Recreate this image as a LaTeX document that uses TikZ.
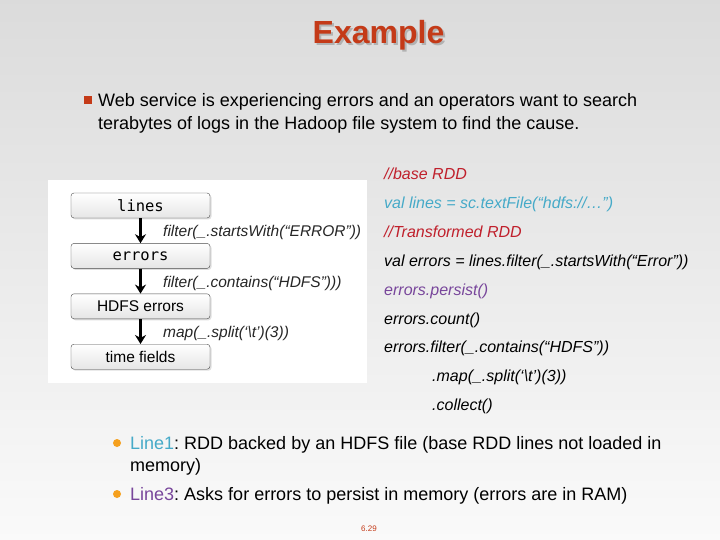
\documentclass[tikz,border=0pt]{standalone}
\usepackage{fontspec}
\setmainfont{Liberation Sans}
\setmonofont{DejaVu Sans Mono}
\usetikzlibrary{positioning,shadows,arrows.meta}
\definecolor{slidered}{RGB}{196,58,24}
\definecolor{cmtred}{RGB}{192,32,44}
\definecolor{valcyan}{RGB}{70,170,200}
\definecolor{persistpurple}{RGB}{120,70,155}
\definecolor{dotorange}{RGB}{245,160,30}
\frenchspacing
\begin{document}
\begin{tikzpicture}[x=1pt,y=-1pt,node distance=25pt,
	rddbox/.style={draw=black!70, rounded corners=3pt, minimum width=139pt, minimum height=25pt,
		top color=white, bottom color=black!10, drop shadow={opacity=0.25,shadow xshift=1.5pt,shadow yshift=-1.5pt},
		font=\fontsize{15.5}{18}\selectfont},
	flow/.style={-{Stealth[length=9pt,width=11pt]}, line width=3.4pt},
	oplabel/.style={right, inner sep=0pt, xshift=21pt, yshift=-2pt, font=\fontsize{15.5}{18}\selectfont\itshape, text=black!85},
	codeline/.style={anchor=base west, inner sep=0pt, font=\fontsize{16}{18}\selectfont\itshape},
	bodytext/.style={anchor=base west, inner sep=0pt, font=\fontsize{18}{22}\selectfont}
	]
	\useasboundingbox (0,0) rectangle (720,540);
	\shade[top color=black!14, bottom color=black!2] (0,0) rectangle (720,540);

	% title with its shadow
	\node (title) at (378.5,36) {\fontsize{32}{36}\selectfont\bfseries
		\rlap{\hspace{2pt}\raisebox{-2pt}{\color{black!30}Example}}\color{slidered}Example};

	% intro bullet
	\fill[slidered] (84,96) rectangle (92,104);
	\node[bodytext] (intro1) at (98,106.5) {Web service is experiencing errors and an operators want to search};
	\node[bodytext] (intro2) at (98,129.5) {terabytes of logs in the Hadoop file system to find the cause.};

	% lineage panel
	\fill[white] (48,180) rectangle (367,383);
	\node[rddbox] (lines) at (140.5,205.5) {\texttt{lines}};
	\node[rddbox, below=of lines] (errors) {\texttt{errors}};
	\node[rddbox, below=of errors] (hdfs) {HDFS errors};
	\node[rddbox, below=of hdfs] (times) {time fields};
	\draw[flow] (lines) -- node[oplabel] {filter(\_.startsWith(“ERROR”))} (errors);
	\draw[flow] (errors) -- node[oplabel] {filter(\_.contains(“HDFS”)))} (hdfs);
	\draw[flow] (hdfs) -- node[oplabel] {map(\_.split(‘\textbackslash t’)(3))} (times);

	% code
	\node[codeline, text=cmtred] (c1) at (384,180) {//base RDD};
	\node[codeline, text=valcyan] (c2) at (384,208.5) {val lines = sc.textFile(“hdfs://…”)};
	\node[codeline, text=cmtred] (c3) at (384,237) {//Transformed RDD};
	\node[codeline] (c4) at (384,266) {val errors = lines.filter(\_.startsWith(“Error”))};
	\node[codeline, text=persistpurple] (c5) at (384,295) {errors.persist()};
	\node[codeline] (c6) at (384,324) {errors.count()};
	\node[codeline] (c7) at (384,352.5) {errors.filter(\_.contains(“HDFS”))};
	\node[codeline] (c8) at (432,381.5) {.map(\_.split(‘\textbackslash t’)(3))};
	\node[codeline] (c9) at (432,410) {.collect()};

	% notes
	\fill[dotorange] (117,443) circle (4pt);
	\node[bodytext] (note1) at (130,449.5) {\textcolor{valcyan}{Line1}: RDD backed by an HDFS file (base RDD lines not loaded in};
	\node[bodytext] (note1b) at (130,471.5) {memory)};
	\fill[dotorange] (117,494) circle (4pt);
	\node[bodytext] (note2) at (130,500.5) {\textcolor{persistpurple}{Line3}: Asks for errors to persist in memory (errors are in RAM)};

	\node[text=slidered, font=\fontsize{8}{9}\selectfont] (pagenum) at (369,529) {6.29};
\end{tikzpicture}
\end{document}
